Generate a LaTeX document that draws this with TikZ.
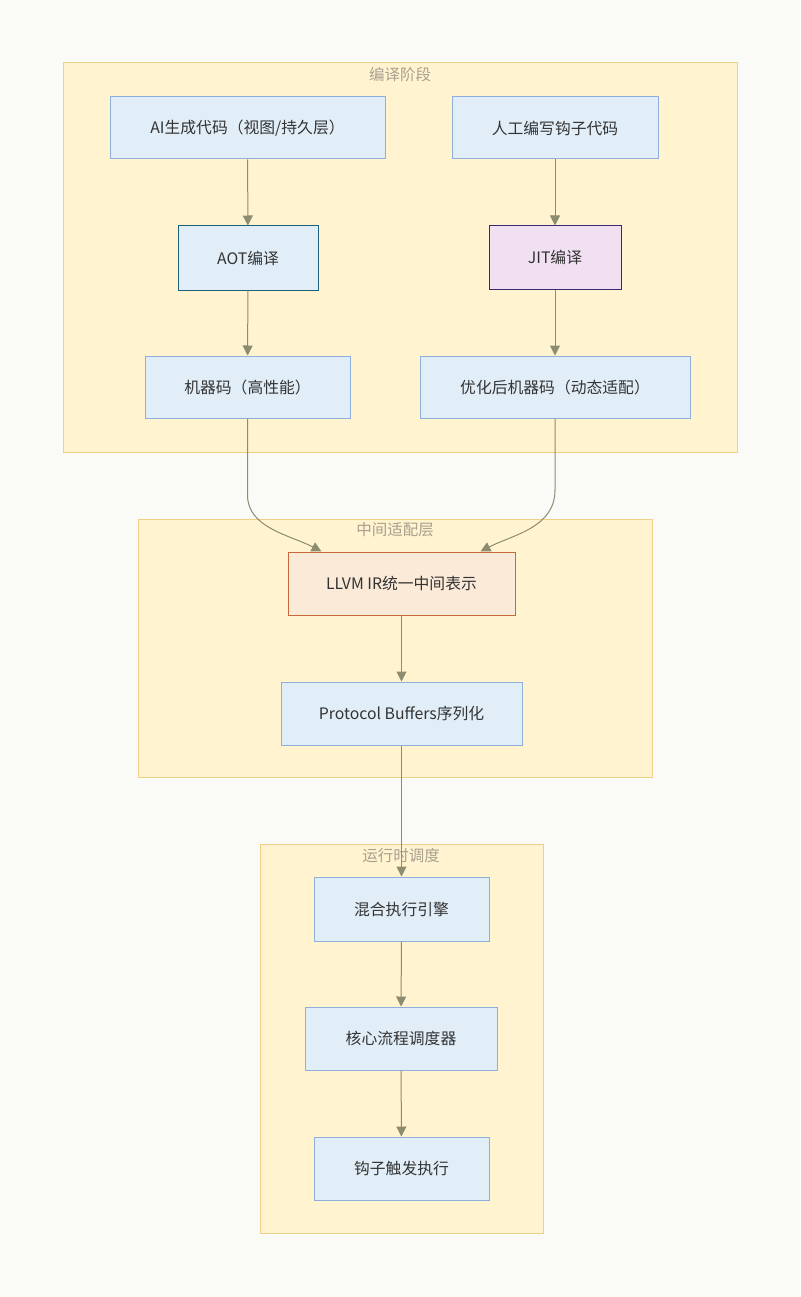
\documentclass[tikz,border=0pt]{standalone}
\usepackage{fontspec}
\setmainfont{Noto Sans CJK SC}
\usetikzlibrary{arrows.meta,positioning,calc}
\definecolor{bgc}{HTML}{FAFAF6}
\definecolor{clfill}{HTML}{FFF4CF}
\definecolor{cldraw}{HTML}{F0CF86}
\definecolor{bfill}{HTML}{E1EEF8}
\definecolor{bdraw}{HTML}{8FAEDB}
\definecolor{aotdraw}{HTML}{1F5F78}
\definecolor{jitfill}{HTML}{F1DFF2}
\definecolor{jitdraw}{HTML}{3A2870}
\definecolor{llfill}{HTML}{FBEAD8}
\definecolor{lldraw}{HTML}{C8693C}
\definecolor{arrc}{HTML}{8C8C70}
\definecolor{titc}{HTML}{A8A090}
\definecolor{txtc}{HTML}{333333}
\tikzset{
  cluster/.style={draw=cldraw, fill=clfill, line width=1pt},
  cltitle/.style={text=titc, font=\fontsize{15.5}{18}\selectfont, inner sep=0pt},
  box/.style={rectangle, draw=bdraw, fill=bfill, line width=1pt, inner sep=0pt, text=txtc, font=\fontsize{15.8}{18}\selectfont},
  aotbox/.style={box, draw=aotdraw},
  jitbox/.style={box, draw=jitdraw, fill=jitfill},
  llbox/.style={box, draw=lldraw, fill=llfill},
  arr/.style={draw=arrc, line width=1pt, -{Triangle[length=10pt,width=10pt]}},
}
\begin{document}
\begin{tikzpicture}[x=1pt,y=-1pt]
\fill[bgc] (0,0) rectangle (800,1297);
\useasboundingbox (0,0) rectangle (800,1297);
% clusters
\draw[cluster] (63,63) rectangle (737,452);
\node[cltitle] (t1) at (400,75) {编译阶段};
\draw[cluster] (138,519) rectangle (652,777);
\node[cltitle] (t2) at (395,530) {中间适配层};
\draw[cluster] (260,844) rectangle (543,1233);
\node[cltitle] (t3) at (401,856) {运行时调度};
% nodes
\node[box, minimum width=275pt, minimum height=62pt] (ai) at (247.5,128) {AI生成代码（视图/持久层）};
\node[box, minimum width=206pt, minimum height=62pt] (hand) at (555,128) {人工编写钩子代码};
\node[aotbox, minimum width=140pt, minimum height=64pt] (aot) at (248,258) {AOT编译};
\node[jitbox, minimum width=132pt, minimum height=63pt] (jit) at (555,257.5) {JIT编译};
\node[box, minimum width=205pt, minimum height=62pt] (m1) at (247.5,387) {机器码（高性能）};
\node[box, minimum width=270pt, minimum height=62pt] (m2) at (555,387) {优化后机器码（动态适配）};
\node[llbox, minimum width=227pt, minimum height=63pt] (ll) at (401.5,583.5) {LLVM IR统一中间表示};
\node[box, minimum width=241pt, minimum height=63pt] (pb) at (401.5,713.5) {Protocol Buffers序列化};
\node[box, minimum width=175pt, minimum height=64pt] (mix) at (401.5,909) {混合执行引擎};
\node[box, minimum width=192pt, minimum height=63pt] (core) at (401,1038.5) {核心流程调度器};
\node[box, minimum width=175pt, minimum height=63pt] (hook) at (401.5,1168.5) {钩子触发执行};
% edges
\draw[arr] (ai) -- (aot);
\draw[arr] (hand) -- (jit);
\draw[arr] (aot) -- (m1);
\draw[arr] (jit) -- (m2);
\draw[arr] (m1.south) -- (247.5,495) .. controls (247.5,528) and (290,535) .. ([xshift=34pt]ll.north west);
\draw[arr] (m2.south) -- (555,490) .. controls (555,528) and (512,535) .. ([xshift=-35pt]ll.north east);
\draw[arr] (ll) -- (pb);
\draw[arr] (pb) -- (mix);
\draw[arr] (mix) -- (core);
\draw[arr] (core) -- (hook);
\end{tikzpicture}
\end{document}
